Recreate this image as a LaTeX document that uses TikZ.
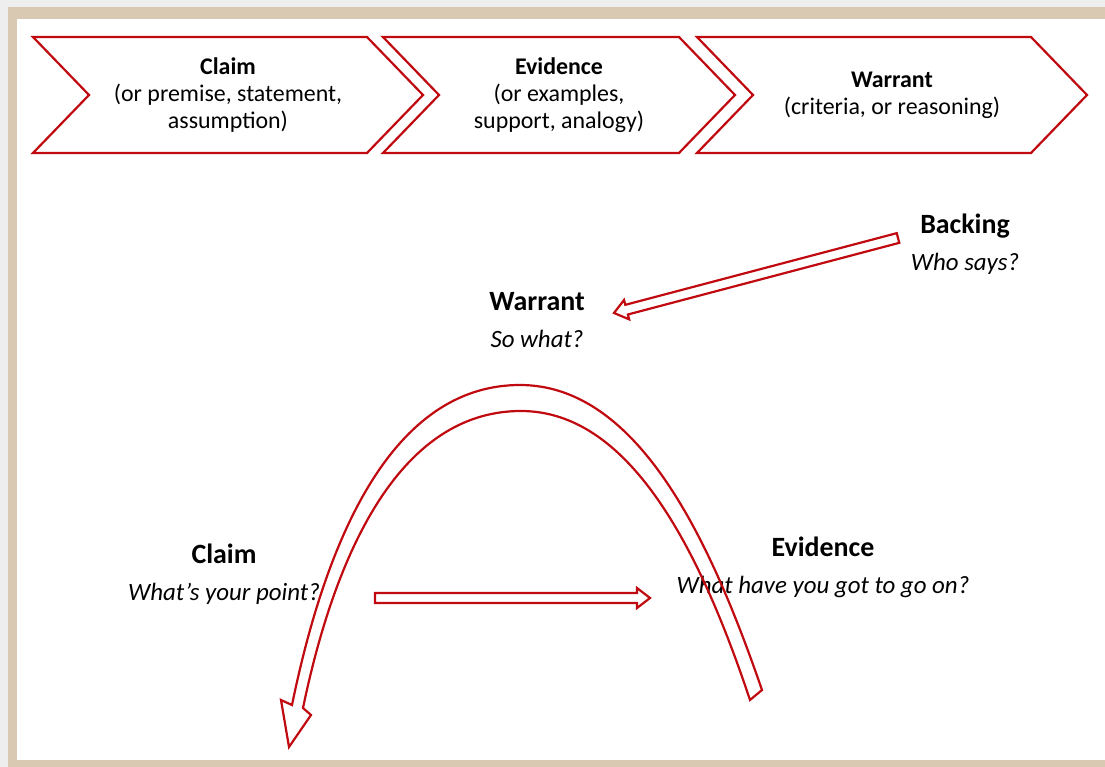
\documentclass[tikz,border=0pt]{standalone}
\usepackage{fontspec}
\setmainfont{Carlito}
\usetikzlibrary{shapes.symbols,calc}
\definecolor{tred}{RGB}{192,10,16}
\definecolor{framebeige}{RGB}{217,200,178}
\definecolor{pagegray}{RGB}{238,238,238}
\tikzset{
  stepbox/.style={
    signal,
    signal from=west,
    signal to=east,
    signal pointer angle=92,
    minimum height=116bp,
    inner sep=0bp,
    outer sep=0bp,
    line width=2.2bp,
    align=center,
    font=\fontsize{24}{27}\selectfont,
  draw=tred
  },
  partlabel/.style={
    align=center,
    font=\fontsize{25}{37}\selectfont
  },
  blockarrow/.style={
    draw=tred,
    line width=2.2bp,
    line join=miter,
    to path={
      let \p1=(\tikztostart), \p2=(\tikztotarget),
          \n1={atan2(\y2-\y1,\x2-\x1)}, \n2={veclen(\x2-\x1,\y2-\y1)} in
      {[shift={(\tikztostart)}, rotate=\n1]
        (0bp,-5bp) -- ({\n2-13bp},-5bp) -- ({\n2-13bp},-10bp) -- (\n2,0bp)
        -- ({\n2-13bp},10bp) -- ({\n2-13bp},5bp) -- (0bp,5bp) -- cycle}
    }
  }
}

\begin{document}
\begin{tikzpicture}[x=1bp,y=-1bp]
    \useasboundingbox (0,0) rectangle (1105,767);
    \fill[pagegray] (0,0) rectangle (1105,767);
    \fill[framebeige] (8,7) rectangle (1105,767);
    \fill[white] (17,19) rectangle (1105,760);

    % top row
    \node[stepbox,minimum width=390bp] (claimstep) at (228,95)
      {\textbf{Claim}\\(or premise, statement,\\assumption)};
    \node[stepbox,minimum width=352bp] (evidencestep) at (559,95)
      {\textbf{Evidence}\\(or examples,\\support, analogy)};
    \node[stepbox,minimum width=390bp] (warrantstep) at (892,95)
      {\textbf{Warrant}\\(criteria, or reasoning)};

    % the model
    \node[partlabel] (backing) at (965,244)
      {{\fontsize{28}{37}\selectfont\bfseries Backing}\\\textit{Who says?}};
    \node[partlabel] (warrant) at (537,320)
      {{\fontsize{28}{37}\selectfont\bfseries Warrant}\\\textit{So what?}};
    \node[partlabel] (claim) at (224,574)
      {{\fontsize{28}{37}\selectfont\bfseries Claim}\\\textit{What's your point?}};
    \node[partlabel] (evidence) at (823,567)
      {{\fontsize{28}{37}\selectfont\bfseries Evidence}\\\textit{What have you got to go on?}};

    \coordinate (backtail) at (898,238);
    \coordinate (warranthead) at (614,313);
    \coordinate (claimtail) at (375,598);
    \coordinate (evidencehead) at (650,598);
    \draw[blockarrow] (backtail) to (warranthead);
    \draw[blockarrow] (claimtail) to (evidencehead);

    % big bent arrow
    \draw[tred,line width=2.2bp,line join=miter]
      (762,690) .. controls (712,545) and (640,385) .. (520,385)
      .. controls (400,385) and (330,520) .. (292,705)
      -- (281,700) -- (289,747) -- (311,715) -- (303,708)
      .. controls (340,530) and (410,411) .. (521,411)
      .. controls (630,411) and (700,550) .. (750,700) -- cycle;
\end{tikzpicture}
\end{document}
